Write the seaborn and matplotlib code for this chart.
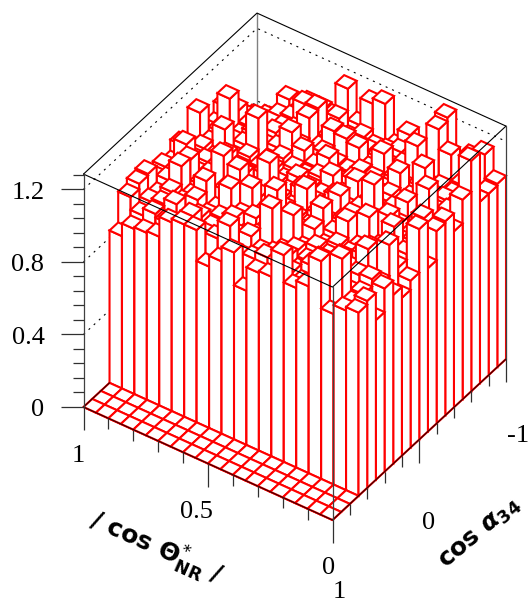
import numpy as np
import matplotlib
matplotlib.use("Agg")
import matplotlib.pyplot as plt
from matplotlib.collections import PolyCollection, LineCollection
import seaborn as sns

# ---- data: rows run along cos(alpha34) from +1 to -1, columns along |cos theta*| from 1 to 0
rows_empty = 3
row03 = [.84,.91,.92,.93,1.04,1.06,1.06,.89,.95,1.03,.85,.98,.99,1.14,.99,1.03,1.20,.94,.99,1.01]
row04 = [1.01,.94,.98,.96,.97,1.06,.99,1.00,1.10,.96,.98,1.02,.95,1.00,.97,.99,1.01,1.20,.98,1.03]
row05 = [1.04,.97,.99,1.02,.95,1.01,.98,.96,1.00,1.03,.97,.99,1.01,.96,1.02,.98,1.00,.97,.99,.88]
row06 = [1.05,.96,1.01,.98,1.03,.97,.99,1.02,.95,.98,1.17,.96,1.00,.97,1.01,.99,.95,1.02,1.03,1.01]
row07 = [.98,1.00,1.11,.97,1.09,.96,1.11,.99,1.01,.97,.98,1.12,.96,1.00,.98,1.01,.97,1.12,.96,.93]
row08 = [1.00,.97,1.10,.99,.96,1.02,1.17,1.10,.98,1.15,.97,.99,1.03,.96,1.00,.98,1.01,.97,1.13,.87]
row09 = [.97,1.11,.98,1.00,1.14,.96,.99,1.01,.97,1.00,.98,.96,1.10,.99,1.09,.97,1.00,.98,.96,.92]
row10 = [1.03,.98,1.00,.96,.99,1.02,.97,1.15,.98,.96,1.10,.99,.97,1.01,.98,1.10,.96,1.11,.99,1.16]
row11 = [.96,1.00,.97,1.02,.98,.96,1.01,.99,.97,1.02,.98,.96,1.08,1.00,.97,.99,1.09,.98,1.01,.90]
row12 = [1.12,.98,1.09,.96,1.00,.97,.99,.96,1.01,.98,.97,1.00,.96,.99,1.16,.97,1.00,.96,1.10,1.06]
row13 = [.97,1.00,.98,.99,1.17,.96,1.01,.98,.97,1.00,1.04,.96,1.07,.98,.97,1.01,1.08,.99,.97,1.07]
row14 = [.96,1.14,.96,1.01,.97,.99,1.11,1.04,.98,1.06,.96,1.00,.97,.99,1.01,.97,.98,1.14,.96,.97]
row15 = [1.02,1.03,.97,.96,1.00,.97,.99,.96,1.01,.98,.97,1.00,.99,.96,1.09,.98,1.18,.97,1.00,1.10]
row16 = [.94,.95,.94,.97,.98,1.00,1.10,.96,1.09,1.08,1.06,.97,1.09,.98,.96,1.00,.97,.99,.98,1.27]
row17 = [.88,.90,.93,.97,.99,1.10,1.11,.97,.98,.96,1.00,.99,.97,1.01,1.15,.96,.98,.97,1.00,1.00]
row18 = [.80,.82,.85,1.02,.98,.97,.99,1.04,.96,1.00,.97,.98,1.01,.96,.99,1.23,1.12,.98,.97,1.00]
row19 = [.76,.80,.84,.95,.98,.98,.97,1.16,.99,1.14,1.17,.96,1.06,.98,1.00,1.25,.97,1.09,1.14,1.01]

z_max = 1.284
x_major = [1, 0.5, 0]
y_major = [1, 0, -1]
z_major = [0, 0.4, 0.8, 1.2]
x_tick_labels = ["1", "0.5", "0"]
y_tick_labels = ["1", "0", "-1"]
z_tick_labels = ["0", "0.4", "0.8", "1.2"]
x_title = r"/ cos $\mathbf{\Theta}^{*}_{\mathbf{NR}}$ /"
y_title = r"cos $\boldsymbol{\alpha}_{\mathbf{34}}$"

RED = "#ff0000"
INK = "#000000"

sns.set_theme(style="white", rc={"mathtext.fontset": "dejavusans"})
plt.rcParams["font.family"] = ["Liberation Serif", "DejaVu Serif"]

heights = np.array([row03, row04, row05, row06, row07, row08, row09, row10, row11,
                    row12, row13, row14, row15, row16, row17, row18, row19])
heights = np.vstack([np.zeros((rows_empty, 20)), heights])
nrows, ncols = heights.shape
x_edges = np.linspace(1, 0, ncols + 1)
y_edges = np.linspace(1, -1, nrows + 1)

# pixel anchors of the lego box
L = np.array([83.5, 407.0])
F = np.array([332.5, 520.0])
R = np.array([506.0, 359.0])
PX_PER_Z = 181.4


def proj(x, y, z=0.0):
    p = L + (1 - x) * (F - L) + (1 - y) / 2 * (R - F)
    return np.array([p[0], p[1] - z * PX_PER_Z])


fig = plt.figure(figsize=(5.30, 6.03), dpi=100, facecolor="white")
ax = fig.add_axes([0, 0, 1, 1])
ax.set_xlim(0, 530)
ax.set_ylim(603, 0)
ax.set_axis_off()

# back walls: box edges and dotted grid
back = [proj(1, -1, 0), proj(1, -1, z_max)]
ax.plot(*zip(*back), color="#808080", lw=1.0, zorder=1)
for zv in z_major[1:]:
    pts = [proj(1, 1, zv), proj(1, -1, zv), proj(0, -1, zv)]
    ax.plot(*zip(*pts), color=INK, lw=0.8, dashes=(1.8, 4.5), zorder=1)
top_back = [proj(1, 1, z_max), proj(1, -1, z_max), proj(0, -1, z_max)]
ax.plot(*zip(*top_back), color=INK, lw=0.8, zorder=1)

# lego bars, painted from the back to the front
polys = []
for j in range(nrows - 1, -1, -1):
    for i in range(ncols):
        h = heights[j, i]
        x0, x1 = x_edges[i], x_edges[i + 1]
        y0, y1 = y_edges[j], y_edges[j + 1]
        polys.append([proj(x0, y0, 0), proj(x1, y0, 0), proj(x1, y0, h), proj(x0, y0, h)])
        polys.append([proj(x1, y0, 0), proj(x1, y1, 0), proj(x1, y1, h), proj(x1, y0, h)])
        polys.append([proj(x0, y0, h), proj(x1, y0, h), proj(x1, y1, h), proj(x0, y1, h)])
ax.add_collection(PolyCollection(polys, facecolors="white", edgecolors=RED,
                                 linewidths=1.5, joinstyle="miter", zorder=2))

# front box edges and axes
front_top = [proj(1, 1, z_max), proj(0, 1, z_max), proj(0, -1, z_max)]
ax.plot(*zip(*front_top), color=INK, lw=0.8, zorder=3)
floor_edge = [proj(1, 1 - 0.3), proj(1, 1), proj(0, 1), proj(0, -1)]
ax.plot(*zip(*floor_edge), color=INK, lw=1.0, zorder=1.9)
ax.plot(*zip(*floor_edge), color=INK, lw=0.8, alpha=0.8, zorder=3)
for a in [(1, 1), (0, 1), (0, -1)]:
    ax.plot(*zip(proj(*a, 0), proj(*a, z_max)), color="#404040", lw=0.9, zorder=3)

segs = []
MAJ_X, MIN_X = 23, 11
for v in np.linspace(1, 0, 11):
    p = proj(v, 1)
    long = any(abs(v - m) < 1e-6 for m in x_major)
    segs.append([p, p + [0, MAJ_X if long else MIN_X]])
for v in np.linspace(1, -1, 11)[1:]:
    p = proj(0, v)
    long = any(abs(v - m) < 1e-6 for m in y_major)
    segs.append([p, p + [0, MAJ_X if long else MIN_X]])
for k in range(17):
    v = k * 0.08
    if v > z_max:
        break
    p = proj(1, 1, v)
    long = any(abs(v - m) < 1e-6 for m in z_major)
    segs.append([p, p - [23 if long else 11, 0]])
ax.add_collection(LineCollection(segs, colors="#303030", linewidths=0.9, zorder=3))

# tick labels
FS = 19
for v, t in zip(z_major, z_tick_labels):
    p = proj(1, 1, v)
    ax.text(44.5, p[1] + 1, t, ha="right", va="center_baseline", fontsize=FS, color=INK)
for v, t, off in zip(x_major, x_tick_labels, [(-5, 47), (-12, 46), (-4, 46)]):
    p = proj(v, 1)
    ax.text(p[0] + off[0], p[1] + off[1], t, ha="center", va="center_baseline", fontsize=FS, color=INK)
for v, t, off in zip(y_major, y_tick_labels, [(6.5, 70), (9, 81), (12, 74)]):
    p = proj(0, v)
    ax.text(p[0] + off[0], p[1] + off[1], t, ha="center", va="center_baseline", fontsize=FS, color=INK)

# axis titles
ax.text(156, 548, x_title, rotation=-24, rotation_mode="anchor", ha="center", va="center",
        fontsize=18, fontweight="bold", family="DejaVu Sans", color=INK)
ax.text(480, 533, y_title, rotation=40, rotation_mode="anchor", ha="center", va="center",
        fontsize=18, fontweight="bold", family="DejaVu Sans", color=INK)

fig.savefig("out.png", dpi=100, facecolor="white")
